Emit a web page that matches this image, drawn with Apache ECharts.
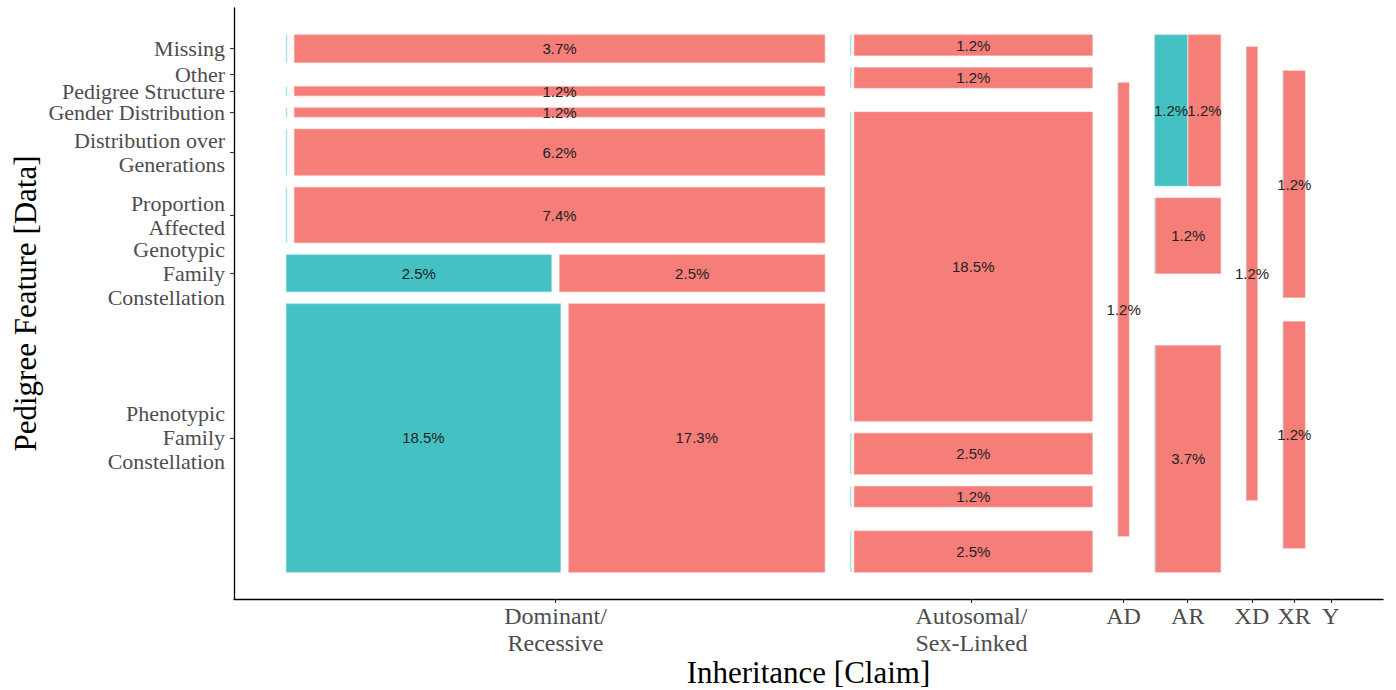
<!DOCTYPE html>
<html>
<head>
<meta charset="utf-8">
<script src="https://cdn.jsdelivr.net/npm/echarts@6/dist/echarts.min.js"></script>
<style>
html,body{margin:0;padding:0;background:#fff;}
#chart{width:1396px;height:690px;}
</style>
</head>
<body>
<div id="chart"></div>
<script>
// Inheritance claim categories (x, widths proportional to counts)
const columns = ['Dominant/\nRecessive', 'Autosomal/\nSex-Linked', 'AD', 'AR', 'XD', 'XR', 'Y'];
// Pedigree feature categories, top to bottom
const features = ['Missing', 'Other', 'Pedigree Structure', 'Gender Distribution',
  'Distribution over\nGenerations', 'Proportion\nAffected',
  'Genotypic\nFamily\nConstellation', 'Phenotypic\nFamily\nConstellation'];
// Counts of the teal fill level, per column, per feature (top to bottom)
const tealDominant = [0, 0, 0, 0, 0, 0, 2, 15];
const tealAutosomal = [0, 0, 0, 0, 0, 0, 0, 0];
const tealAD = [0, 0, 0, 0, 0, 0, 0, 0];
const tealAR = [1, 0, 0, 0, 0, 0, 0, 0];
const tealXD = [0, 0, 0, 0, 0, 0, 0, 0];
const tealXR = [0, 0, 0, 0, 0, 0, 0, 0];
const tealY = [0, 0, 0, 0, 0, 0, 0, 0];
// Counts of the red fill level
const redDominant = [3, 0, 1, 1, 5, 6, 2, 14];
const redAutosomal = [1, 1, 0, 15, 2, 1, 0, 2];
const redAD = [0, 0, 0, 0, 1, 0, 0, 0];
const redAR = [1, 1, 0, 0, 0, 0, 0, 3];
const redXD = [0, 1, 0, 0, 0, 0, 0, 0];
const redXR = [0, 0, 0, 1, 0, 1, 0, 0];
const redY = [0, 0, 0, 0, 0, 0, 0, 0];

const tealCounts = [tealDominant, tealAutosomal, tealAD, tealAR, tealXD, tealXR, tealY];
const redCounts = [redDominant, redAutosomal, redAD, redAR, redXD, redXR, redY];

const TEAL = '#45C1C4';
const RED = '#F57E79';
const ZERO_LINE = '#A9E4E5';

// mosaic layout in data units [0,1]
const X_GAP = 0.0246, Y_GAP = 0.0223, FILL_GAP = 0.015;
const colTotals = columns.map((c, i) => features.reduce((s, f, j) => s + tealCounts[i][j] + redCounts[i][j], 0));
const N = colTotals.reduce((a, b) => a + b, 0);
const xUnit = (1 - (columns.length - 1) * X_GAP) / N;

const rects = [];
const colCenters = [];
const featCenters = [];
let xCur = 0;
columns.forEach((c, i) => {
  const w = colTotals[i] * xUnit;
  const x0 = xCur, x1 = xCur + w;
  colCenters.push((x0 + x1) / 2);
  const hUnit = colTotals[i] > 0 ? (1 - (features.length - 1) * Y_GAP) / colTotals[i] : 0;
  let yCur = 1;
  features.forEach((f, j) => {
    const t = tealCounts[i][j], r = redCounts[i][j];
    const cell = t + r;
    const top = yCur, bot = yCur - cell * hUnit;
    if (i === 0) featCenters.push((top + bot) / 2);
    if (cell > 0) {
      const gap = FILL_GAP * w;
      const wu = (w - gap) / cell;
      const tx1 = x0 + t * wu;
      if (t > 0) rects.push([x0, tx1, bot, top, 0, t]);
      else rects.push([x0, x0, bot, top, 2, 0]);
      if (r > 0) rects.push([tx1 + gap, x1, bot, top, 1, r]);
    }
    yCur = bot - Y_GAP;
  });
  xCur = x1 + X_GAP;
});

function nearestIndex(arr, v) {
  let best = 0, bd = Infinity;
  arr.forEach((a, k) => { const d = Math.abs(a - v); if (d < bd) { bd = d; best = k; } });
  return best;
}

const chart = echarts.init(document.getElementById('chart'), null, { renderer: 'svg' });
const serif = '"Liberation Serif", "DejaVu Serif", serif';
chart.setOption({
  animation: false,
  backgroundColor: '#fff',
  grid: { left: 234, right: 13, top: 8, bottom: 91, containLabel: false, outerBoundsMode: 'none' },
  xAxis: {
    type: 'value', min: -0.05, max: 1.05,
    name: 'Inheritance [Claim]', nameLocation: 'middle', nameGap: 58, nameMoveOverlap: false,
    nameTextStyle: { fontFamily: serif, fontSize: 31, lineHeight: 31, color: '#000' },
    axisLine: { show: true, onZero: false, lineStyle: { color: '#000', width: 1.3 } },
    axisTick: { show: true, length: 4, customValues: colCenters, lineStyle: { color: '#333', width: 1.1 } },
    axisLabel: {
      customValues: colCenters, margin: 3,
      fontFamily: serif, fontSize: 24, lineHeight: 27, color: '#4D4D4D',
      formatter: v => columns[nearestIndex(colCenters, v)]
    },
    splitLine: { show: false }
  },
  yAxis: {
    type: 'value', min: -0.05, max: 1.05,
    name: 'Pedigree Feature [Data]', nameLocation: 'middle', nameGap: 193, nameRotate: 90, nameMoveOverlap: false,
    nameTextStyle: { fontFamily: serif, fontSize: 31, color: '#000' },
    axisLine: { show: true, onZero: false, lineStyle: { color: '#000', width: 1.3 } },
    axisTick: { show: true, length: 4, customValues: featCenters, lineStyle: { color: '#333', width: 1.1 } },
    axisLabel: {
      customValues: featCenters, margin: 9,
      fontFamily: serif, fontSize: 22, lineHeight: 24, color: '#4D4D4D', align: 'right',
      formatter: v => features[nearestIndex(featCenters, v)]
    },
    splitLine: { show: false }
  },
  series: [{
    type: 'custom',
    data: rects,
    renderItem: function (params, api) {
      const x0 = api.value(0), x1 = api.value(1), y0 = api.value(2), y1 = api.value(3);
      const kind = api.value(4), cnt = api.value(5);
      const p0 = api.coord([x0, y1]);
      const p1 = api.coord([x1, y0]);
      if (kind === 2) {
        return {
          type: 'rect',
          shape: { x: p0[0] - 0.5, y: p0[1], width: 1.5, height: p1[1] - p0[1] },
          style: { fill: ZERO_LINE }
        };
      }
      const children = [{
        type: 'rect',
        shape: { x: p0[0], y: p0[1], width: p1[0] - p0[0], height: p1[1] - p0[1] },
        style: { fill: kind === 0 ? TEAL : RED, stroke: kind === 0 ? '#7fd6d8' : '#f7a09c', lineWidth: 0.6 }
      }, {
        type: 'text',
        x: (p0[0] + p1[0]) / 2,
        y: (p0[1] + p1[1]) / 2,
        style: {
          text: (cnt / N * 100).toFixed(1) + '%',
          align: 'center', verticalAlign: 'middle',
          fontFamily: '"Liberation Sans", Arial, sans-serif', fontSize: 15, fill: '#222'
        },
        z2: 10
      }];
      return { type: 'group', children: children };
    }
  }]
});
</script>
</body>
</html>
